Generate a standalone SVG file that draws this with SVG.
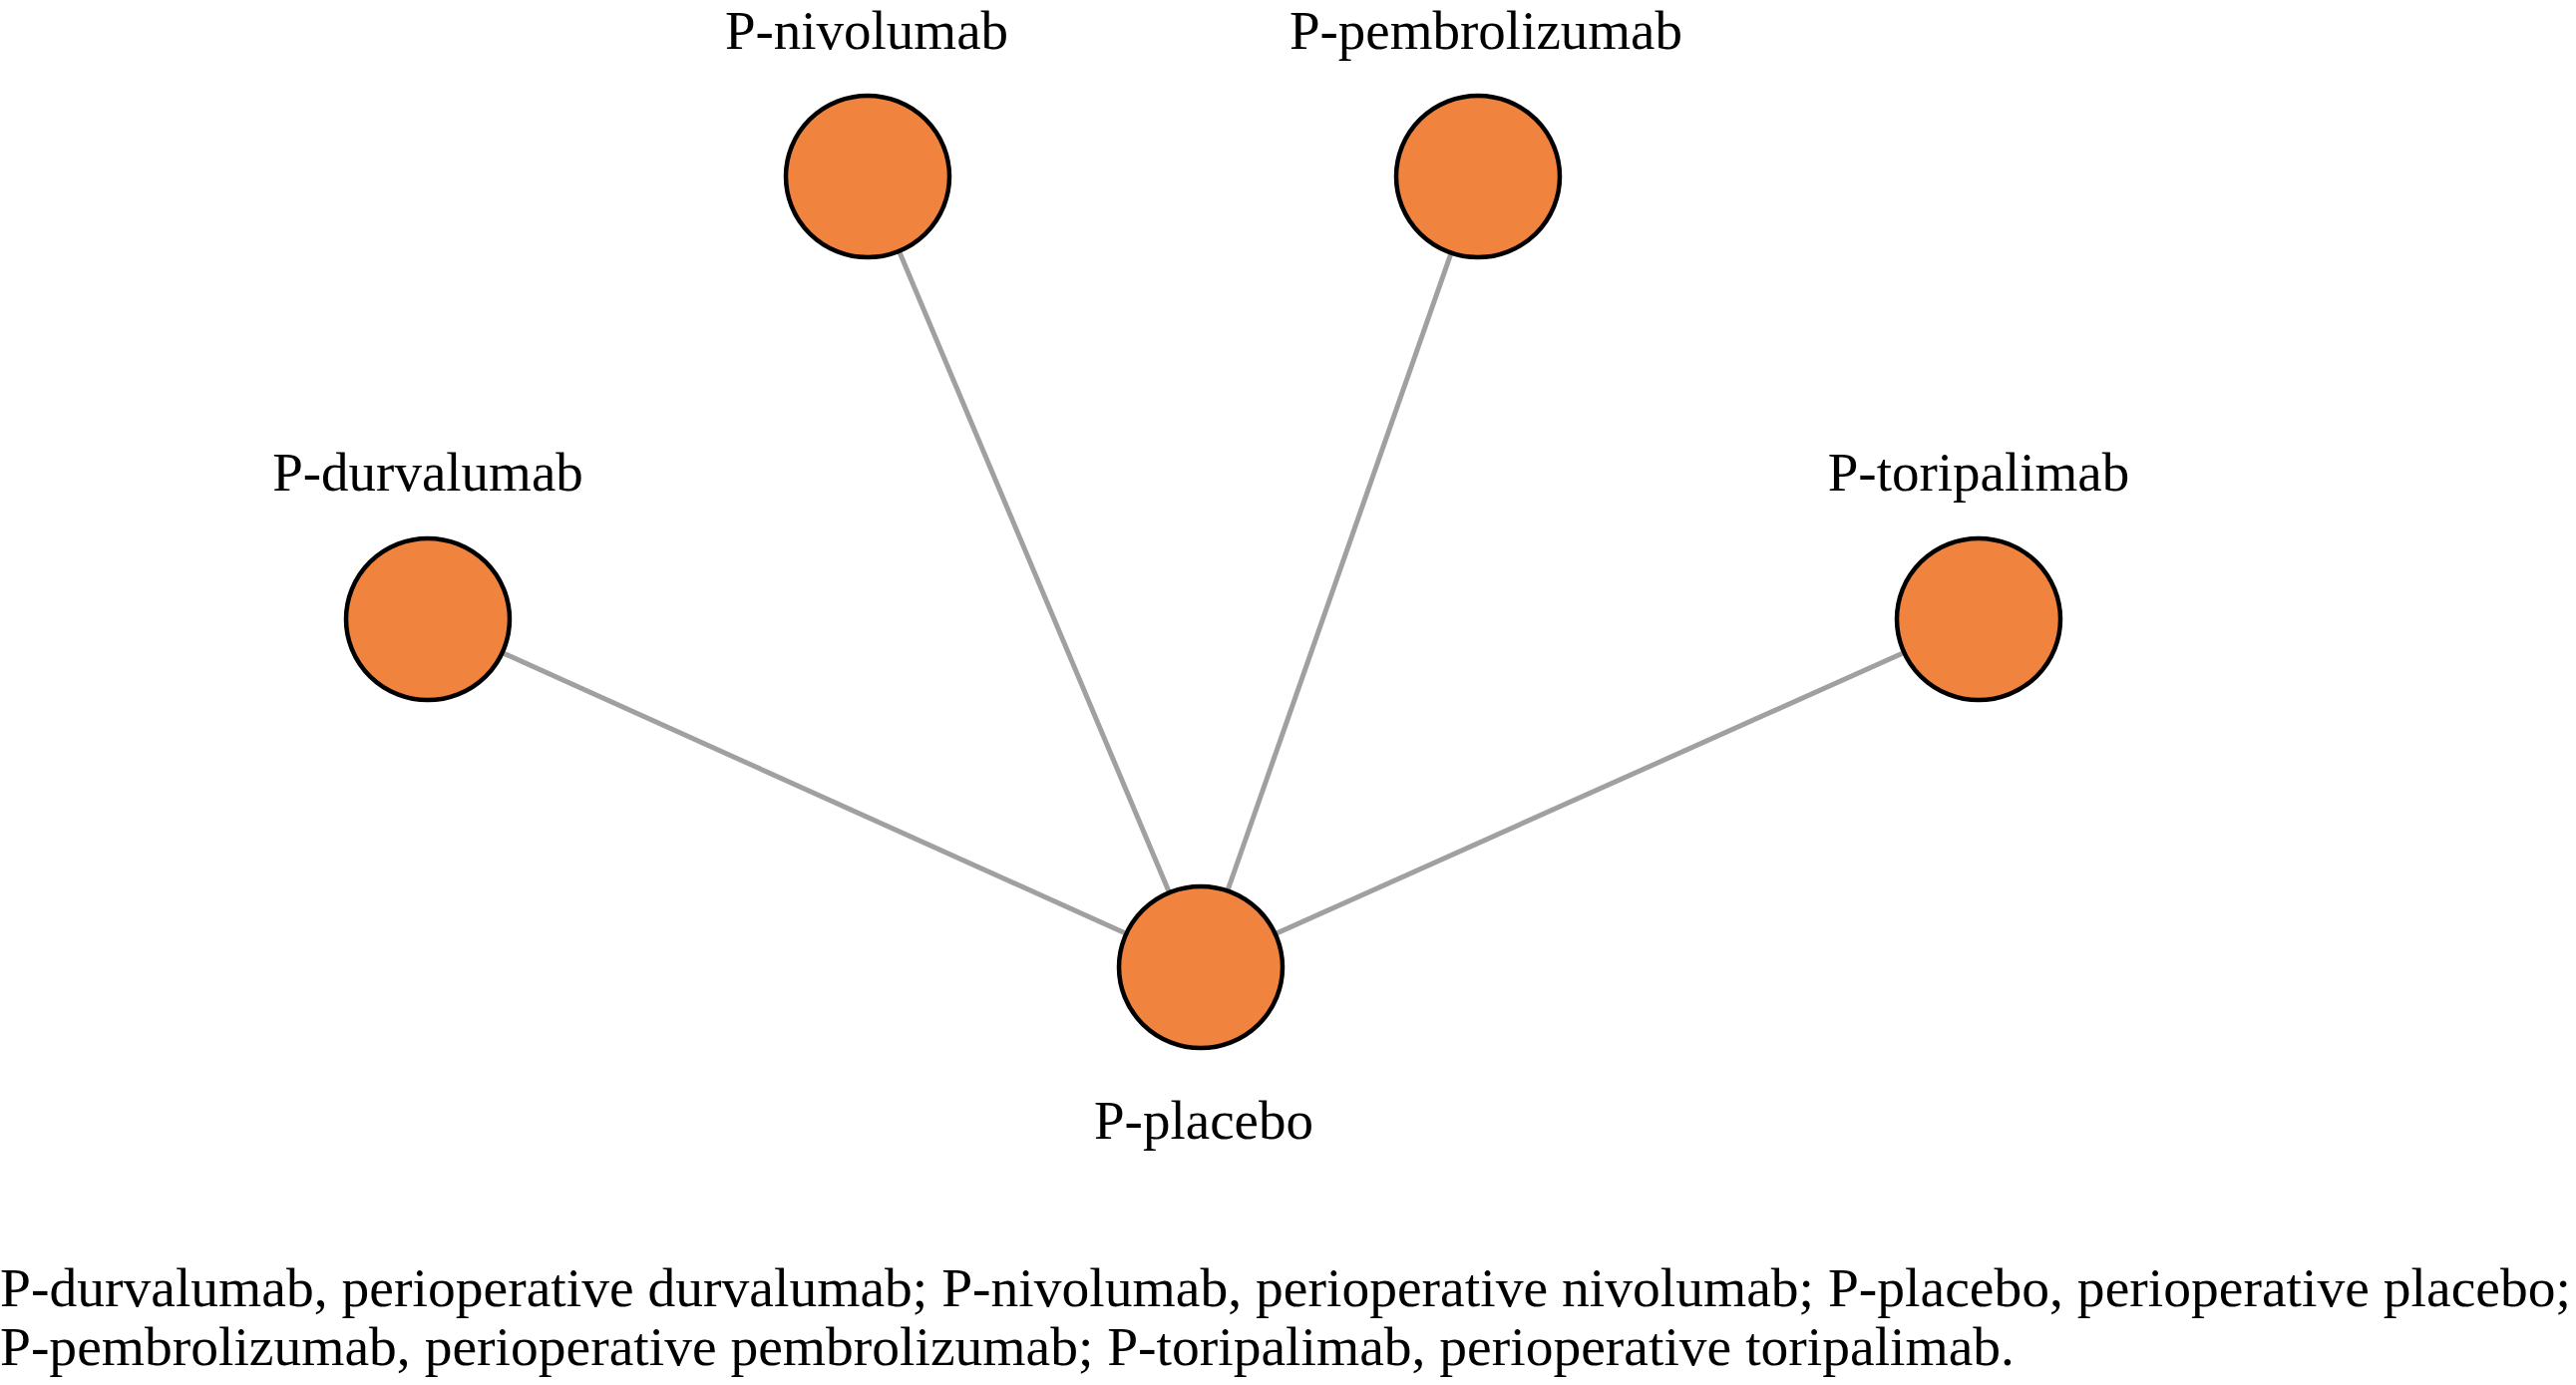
<svg xmlns="http://www.w3.org/2000/svg" width="2583" height="1389" viewBox="0 0 2583 1389">
<style>
.edge{stroke:#A0A0A0;stroke-width:5;fill:none}
.node{fill:#F0843F;stroke:#000;stroke-width:4.5}
.lbl{font-family:"Liberation Serif","Times New Roman",serif;font-size:55px;fill:#000;text-anchor:middle}
.cap{font-family:"Liberation Serif","Times New Roman",serif;font-size:55px;fill:#000}
</style>
<rect width="2583" height="1389" fill="#fff"/>
<g id="connectors">
<line class="edge" x1="1204" y1="970" x2="429" y2="621"/>
<line class="edge" x1="1204" y1="970" x2="870" y2="177"/>
<line class="edge" x1="1204" y1="970" x2="1482" y2="177"/>
<line class="edge" x1="1204" y1="970" x2="1984" y2="621"/>
</g>
<g id="node-nivolumab">
<ellipse class="node" cx="870" cy="177" rx="82" ry="81"/>
<text class="lbl" x="869" y="49">P-nivolumab</text>
</g>
<g id="node-pembrolizumab">
<ellipse class="node" cx="1482" cy="177" rx="82" ry="81"/>
<text class="lbl" x="1490" y="49">P-pembrolizumab</text>
</g>
<g id="node-durvalumab">
<ellipse class="node" cx="429" cy="621" rx="82" ry="81"/>
<text class="lbl" x="429" y="492">P-durvalumab</text>
</g>
<g id="node-toripalimab">
<ellipse class="node" cx="1984" cy="621" rx="82" ry="81"/>
<text class="lbl" x="1984" y="492">P-toripalimab</text>
</g>
<g id="node-placebo">
<ellipse class="node" cx="1204" cy="970" rx="82" ry="81"/>
<text class="lbl" x="1207" y="1142">P-placebo</text>
</g>
<g id="caption">
<text class="cap" x="0" y="1310" textLength="2578" lengthAdjust="spacingAndGlyphs">P-durvalumab, perioperative durvalumab; P-nivolumab, perioperative nivolumab; P-placebo, perioperative placebo;</text>
<text class="cap" x="0" y="1369" textLength="2020" lengthAdjust="spacingAndGlyphs">P-pembrolizumab, perioperative pembrolizumab; P-toripalimab, perioperative toripalimab.</text>
</g>
</svg>
